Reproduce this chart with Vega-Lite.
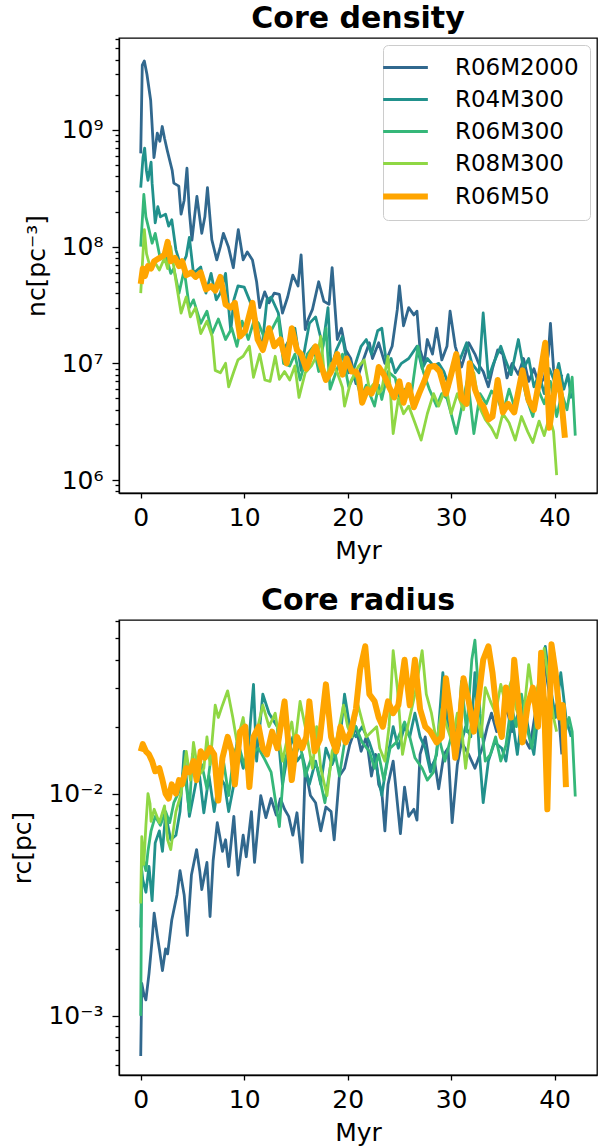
{
"$schema":"https://vega.github.io/schema/vega-lite/v6.json",
"padding":{"left":10,"top":3,"right":5,"bottom":2},
"spacing":20,
"datasets":{
"den":[
{"s":"R06M2000","t":0,"v":6.3e8},{"s":"R06M2000","t":0.15,"v":3.6e9},{"s":"R06M2000","t":0.35,"v":3.9e9},{"s":"R06M2000","t":0.6,"v":3.0e9},{"s":"R06M2000","t":0.96,"v":1.8e9},{"s":"R06M2000","t":1.28,"v":5.8e8},{"s":"R06M2000","t":1.6,"v":9.4e8},{"s":"R06M2000","t":1.85,"v":8e8},{"s":"R06M2000","t":2.08,"v":1.07e9},{"s":"R06M2000","t":2.3,"v":8.5e8},{"s":"R06M2000","t":2.56,"v":6.7e8},{"s":"R06M2000","t":3.04,"v":4.5e8},{"s":"R06M2000","t":3.2,"v":3.5e8},{"s":"R06M2000","t":3.68,"v":3.3e8},{"s":"R06M2000","t":3.9,"v":1.9e8},{"s":"R06M2000","t":4.2,"v":2.5e8},{"s":"R06M2000","t":4.47,"v":4.7e8},{"s":"R06M2000","t":4.7,"v":2.0e8},{"s":"R06M2000","t":4.95,"v":1.14e8},{"s":"R06M2000","t":5.2,"v":1.8e8},{"s":"R06M2000","t":5.43,"v":2.7e8},{"s":"R06M2000","t":5.9,"v":1.3e8},{"s":"R06M2000","t":6.2,"v":1.8e8},{"s":"R06M2000","t":6.45,"v":3.2e8},{"s":"R06M2000","t":6.87,"v":1.15e8},{"s":"R06M2000","t":7.35,"v":7.7e7},{"s":"R06M2000","t":7.7,"v":1.0e8},{"s":"R06M2000","t":7.99,"v":1.3e8},{"s":"R06M2000","t":8.47,"v":1.0e8},{"s":"R06M2000","t":8.95,"v":6.6e7},{"s":"R06M2000","t":9.27,"v":1.1e8},{"s":"R06M2000","t":9.43,"v":1.4e8},{"s":"R06M2000","t":9.9,"v":7.7e7},{"s":"R06M2000","t":10.3,"v":9e7},{"s":"R06M2000","t":10.8,"v":7.7e7},{"s":"R06M2000","t":11.2,"v":5e7},{"s":"R06M2000","t":11.5,"v":3.0e7},{"s":"R06M2000","t":11.98,"v":4.1e7},{"s":"R06M2000","t":12.4,"v":3.3e7},{"s":"R06M2000","t":12.9,"v":4e7},{"s":"R06M2000","t":13.4,"v":3.9e7},{"s":"R06M2000","t":13.7,"v":2.7e7},{"s":"R06M2000","t":14.2,"v":3.7e7},{"s":"R06M2000","t":14.7,"v":5.7e7},{"s":"R06M2000","t":15.2,"v":4.6e7},{"s":"R06M2000","t":15.5,"v":8.5e7},{"s":"R06M2000","t":15.9,"v":1.95e7},{"s":"R06M2000","t":16.2,"v":2.4e7},{"s":"R06M2000","t":16.6,"v":2.9e7},{"s":"R06M2000","t":17.2,"v":5.0e7},{"s":"R06M2000","t":17.7,"v":3.4e7},{"s":"R06M2000","t":18.2,"v":3.2e7},{"s":"R06M2000","t":18.5,"v":6.6e7},{"s":"R06M2000","t":19.0,"v":1.6e7},{"s":"R06M2000","t":19.4,"v":2.0e7},{"s":"R06M2000","t":19.8,"v":1.3e7},{"s":"R06M2000","t":20.3,"v":1.1e7},{"s":"R06M2000","t":20.8,"v":6.7e6},{"s":"R06M2000","t":21.4,"v":1e7},{"s":"R06M2000","t":22.1,"v":1.5e7},{"s":"R06M2000","t":22.4,"v":1.1e7},{"s":"R06M2000","t":23.0,"v":1.5e7},{"s":"R06M2000","t":23.6,"v":1e7},{"s":"R06M2000","t":24.3,"v":1.4e7},{"s":"R06M2000","t":24.8,"v":2.9e7},{"s":"R06M2000","t":25.0,"v":4.6e7},{"s":"R06M2000","t":25.4,"v":2.1e7},{"s":"R06M2000","t":25.9,"v":3.0e7},{"s":"R06M2000","t":26.4,"v":2.6e7},{"s":"R06M2000","t":26.7,"v":2.8e7},{"s":"R06M2000","t":27.0,"v":1.3e7},{"s":"R06M2000","t":27.4,"v":1.0e7},{"s":"R06M2000","t":27.7,"v":1.6e7},{"s":"R06M2000","t":28.2,"v":1.2e7},{"s":"R06M2000","t":28.6,"v":2.0e7},{"s":"R06M2000","t":29.1,"v":1.07e7},{"s":"R06M2000","t":29.6,"v":1.4e7},{"s":"R06M2000","t":29.9,"v":2.8e7},{"s":"R06M2000","t":30.4,"v":1.4e7},{"s":"R06M2000","t":31.0,"v":9.3e6},{"s":"R06M2000","t":31.7,"v":1.5e7},{"s":"R06M2000","t":32.3,"v":1.2e7},{"s":"R06M2000","t":32.8,"v":9.3e6},{"s":"R06M2000","t":33.1,"v":8.5e6},{"s":"R06M2000","t":33.6,"v":6.3e6},{"s":"R06M2000","t":34.0,"v":9e6},{"s":"R06M2000","t":34.5,"v":1.3e7},{"s":"R06M2000","t":35.0,"v":1.2e7},{"s":"R06M2000","t":35.4,"v":7.5e6},{"s":"R06M2000","t":35.9,"v":1.0e7},{"s":"R06M2000","t":36.5,"v":8e6},{"s":"R06M2000","t":37.0,"v":1.1e7},{"s":"R06M2000","t":37.5,"v":7e6},{"s":"R06M2000","t":38.0,"v":9e6},{"s":"R06M2000","t":38.5,"v":6.5e6},{"s":"R06M2000","t":39.0,"v":7.5e6},{"s":"R06M2000","t":39.4,"v":1.2e7},{"s":"R06M2000","t":39.6,"v":2.2e7},{"s":"R06M2000","t":39.9,"v":9e6},{"s":"R06M2000","t":40.3,"v":6e6},{"s":"R06M2000","t":40.7,"v":8e6},
{"s":"R04M300","t":0,"v":3.2e8},{"s":"R04M300","t":0.22,"v":5.8e8},{"s":"R04M300","t":0.38,"v":7.0e8},{"s":"R04M300","t":0.55,"v":4.5e8},{"s":"R04M300","t":0.7,"v":3.7e8},{"s":"R04M300","t":1.0,"v":5.3e8},{"s":"R04M300","t":1.1,"v":3.5e8},{"s":"R04M300","t":1.4,"v":1.6e8},{"s":"R04M300","t":1.65,"v":2.2e8},{"s":"R04M300","t":1.9,"v":1.8e8},{"s":"R04M300","t":2.4,"v":1.9e8},{"s":"R04M300","t":2.7,"v":1.5e8},{"s":"R04M300","t":3.0,"v":1.7e8},{"s":"R04M300","t":3.4,"v":9.4e7},{"s":"R04M300","t":3.9,"v":6.7e7},{"s":"R04M300","t":4.4,"v":8.3e7},{"s":"R04M300","t":4.7,"v":1.2e8},{"s":"R04M300","t":5.1,"v":5.9e7},{"s":"R04M300","t":5.8,"v":6.7e7},{"s":"R04M300","t":6.3,"v":4e7},{"s":"R04M300","t":6.8,"v":5.9e7},{"s":"R04M300","t":7.3,"v":3.5e7},{"s":"R04M300","t":7.7,"v":4e7},{"s":"R04M300","t":8.2,"v":5.9e7},{"s":"R04M300","t":8.7,"v":1.9e7},{"s":"R04M300","t":9.0,"v":3.5e7},{"s":"R04M300","t":9.4,"v":4.6e7},{"s":"R04M300","t":10.0,"v":4.5e7},{"s":"R04M300","t":10.5,"v":3.5e7},{"s":"R04M300","t":11.1,"v":2.5e7},{"s":"R04M300","t":11.7,"v":1.3e7},{"s":"R04M300","t":12.2,"v":3.5e7},{"s":"R04M300","t":12.6,"v":3.7e7},{"s":"R04M300","t":13.3,"v":2.7e7},{"s":"R04M300","t":13.8,"v":1.3e7},{"s":"R04M300","t":14.2,"v":1.5e7},{"s":"R04M300","t":14.9,"v":2.0e7},{"s":"R04M300","t":15.5,"v":8.7e6},{"s":"R04M300","t":15.9,"v":1.4e7},{"s":"R04M300","t":16.3,"v":2.2e7},{"s":"R04M300","t":16.9,"v":2.5e7},{"s":"R04M300","t":17.6,"v":1.4e7},{"s":"R04M300","t":18.1,"v":3.0e7},{"s":"R04M300","t":18.4,"v":9e6},{"s":"R04M300","t":18.9,"v":1.3e7},{"s":"R04M300","t":19.5,"v":1.7e7},{"s":"R04M300","t":20.1,"v":8.3e6},{"s":"R04M300","t":20.6,"v":9e6},{"s":"R04M300","t":21.3,"v":1.4e7},{"s":"R04M300","t":21.8,"v":1.6e7},{"s":"R04M300","t":22.3,"v":1.2e7},{"s":"R04M300","t":22.9,"v":1.9e7},{"s":"R04M300","t":23.3,"v":2.0e7},{"s":"R04M300","t":23.8,"v":9.3e6},{"s":"R04M300","t":24.2,"v":1.1e7},{"s":"R04M300","t":24.6,"v":8.3e6},{"s":"R04M300","t":25.2,"v":1.0e7},{"s":"R04M300","t":25.9,"v":1.1e7},{"s":"R04M300","t":26.7,"v":1.4e7},{"s":"R04M300","t":27.2,"v":9e6},{"s":"R04M300","t":27.7,"v":1.1e7},{"s":"R04M300","t":28.3,"v":9.5e6},{"s":"R04M300","t":28.8,"v":1.0e7},{"s":"R04M300","t":29.3,"v":8.5e6},{"s":"R04M300","t":29.8,"v":6.3e6},{"s":"R04M300","t":30.4,"v":1.2e7},{"s":"R04M300","t":30.9,"v":1.1e7},{"s":"R04M300","t":31.5,"v":1.5e7},{"s":"R04M300","t":32.0,"v":1.0e7},{"s":"R04M300","t":32.7,"v":8.3e6},{"s":"R04M300","t":33.1,"v":2.7e7},{"s":"R04M300","t":33.6,"v":7.5e6},{"s":"R04M300","t":34.1,"v":1e7},{"s":"R04M300","t":34.8,"v":1.4e7},{"s":"R04M300","t":35.2,"v":1.1e7},{"s":"R04M300","t":35.8,"v":8e6},{"s":"R04M300","t":36.5,"v":1.6e7},{"s":"R04M300","t":37.0,"v":9e6},{"s":"R04M300","t":37.5,"v":1.1e7},{"s":"R04M300","t":38.0,"v":6.3e6},{"s":"R04M300","t":38.5,"v":8e6},{"s":"R04M300","t":39.0,"v":5.5e6},{"s":"R04M300","t":39.5,"v":9e6},{"s":"R04M300","t":40.0,"v":7e6},{"s":"R04M300","t":40.4,"v":1.0e7},{"s":"R04M300","t":40.9,"v":6e6},{"s":"R04M300","t":41.3,"v":8e6},{"s":"R04M300","t":41.6,"v":5e6},
{"s":"R06M300","t":0,"v":1.0e8},{"s":"R06M300","t":0.3,"v":2.8e8},{"s":"R06M300","t":0.5,"v":1.8e8},{"s":"R06M300","t":0.8,"v":1.4e8},{"s":"R06M300","t":1.1,"v":1.07e8},{"s":"R06M300","t":1.4,"v":1.3e8},{"s":"R06M300","t":1.9,"v":7.8e7},{"s":"R06M300","t":2.4,"v":8.7e7},{"s":"R06M300","t":2.9,"v":5.9e7},{"s":"R06M300","t":3.2,"v":6.5e7},{"s":"R06M300","t":3.7,"v":4e7},{"s":"R06M300","t":4.2,"v":6.3e7},{"s":"R06M300","t":4.7,"v":3.0e7},{"s":"R06M300","t":5.1,"v":3.5e7},{"s":"R06M300","t":5.8,"v":2.2e7},{"s":"R06M300","t":6.4,"v":2.8e7},{"s":"R06M300","t":6.9,"v":1.8e7},{"s":"R06M300","t":7.5,"v":2.4e7},{"s":"R06M300","t":8.2,"v":1.6e7},{"s":"R06M300","t":8.8,"v":2.0e7},{"s":"R06M300","t":9.3,"v":1.4e7},{"s":"R06M300","t":9.8,"v":2.3e7},{"s":"R06M300","t":10.4,"v":1.6e7},{"s":"R06M300","t":11.0,"v":2.4e7},{"s":"R06M300","t":11.4,"v":2.2e7},{"s":"R06M300","t":12.0,"v":1.6e7},{"s":"R06M300","t":12.6,"v":1.9e7},{"s":"R06M300","t":13.3,"v":2.5e7},{"s":"R06M300","t":13.8,"v":1.0e7},{"s":"R06M300","t":14.4,"v":9.5e6},{"s":"R06M300","t":14.9,"v":1.2e7},{"s":"R06M300","t":15.4,"v":7.2e6},{"s":"R06M300","t":16.1,"v":1.2e7},{"s":"R06M300","t":16.7,"v":1.4e7},{"s":"R06M300","t":17.2,"v":8.5e6},{"s":"R06M300","t":17.9,"v":2.0e7},{"s":"R06M300","t":18.3,"v":6e6},{"s":"R06M300","t":18.9,"v":8.5e6},{"s":"R06M300","t":19.5,"v":1.2e7},{"s":"R06M300","t":20.1,"v":6.3e6},{"s":"R06M300","t":20.7,"v":8e6},{"s":"R06M300","t":21.3,"v":5.1e6},{"s":"R06M300","t":21.8,"v":6.5e6},{"s":"R06M300","t":22.6,"v":4.3e6},{"s":"R06M300","t":23.0,"v":6.5e6},{"s":"R06M300","t":23.3,"v":4.9e6},{"s":"R06M300","t":23.9,"v":8.5e6},{"s":"R06M300","t":24.6,"v":7.5e6},{"s":"R06M300","t":25.0,"v":5.0e6},{"s":"R06M300","t":25.5,"v":6e6},{"s":"R06M300","t":26.1,"v":5e6},{"s":"R06M300","t":26.8,"v":1.4e7},{"s":"R06M300","t":27.3,"v":8.5e6},{"s":"R06M300","t":27.9,"v":6e6},{"s":"R06M300","t":28.6,"v":4.3e6},{"s":"R06M300","t":29.1,"v":5.5e6},{"s":"R06M300","t":29.6,"v":5e6},{"s":"R06M300","t":30.0,"v":3.7e6},{"s":"R06M300","t":30.5,"v":2.5e6},{"s":"R06M300","t":31.1,"v":4.5e6},{"s":"R06M300","t":31.6,"v":7.5e6},{"s":"R06M300","t":32.2,"v":2.5e6},{"s":"R06M300","t":32.8,"v":5.5e6},{"s":"R06M300","t":33.4,"v":4.5e6},{"s":"R06M300","t":33.9,"v":5.8e6},{"s":"R06M300","t":34.5,"v":5e6},{"s":"R06M300","t":35.0,"v":3.7e6},{"s":"R06M300","t":35.6,"v":6e6},{"s":"R06M300","t":36.2,"v":4e6},{"s":"R06M300","t":36.8,"v":8e6},{"s":"R06M300","t":37.3,"v":5e6},{"s":"R06M300","t":37.9,"v":3.5e6},{"s":"R06M300","t":38.4,"v":6e6},{"s":"R06M300","t":39.0,"v":4.5e6},{"s":"R06M300","t":39.6,"v":7e6},{"s":"R06M300","t":40.2,"v":3.5e6},{"s":"R06M300","t":40.7,"v":5.5e6},{"s":"R06M300","t":41.2,"v":4e6},{"s":"R06M300","t":41.7,"v":7.6e6},{"s":"R06M300","t":42.0,"v":2.4e6},
{"s":"R08M300","t":0,"v":4e7},{"s":"R08M300","t":0.35,"v":1.4e8},{"s":"R08M300","t":0.56,"v":8.7e7},{"s":"R08M300","t":0.9,"v":6.7e7},{"s":"R08M300","t":1.3,"v":7.5e7},{"s":"R08M300","t":1.8,"v":6.3e7},{"s":"R08M300","t":2.3,"v":8e7},{"s":"R08M300","t":2.6,"v":6.5e7},{"s":"R08M300","t":2.9,"v":1.0e8},{"s":"R08M300","t":3.4,"v":5.1e7},{"s":"R08M300","t":3.9,"v":2.7e7},{"s":"R08M300","t":4.4,"v":3.7e7},{"s":"R08M300","t":4.8,"v":2.5e7},{"s":"R08M300","t":5.3,"v":3.0e7},{"s":"R08M300","t":5.8,"v":1.8e7},{"s":"R08M300","t":6.4,"v":2.3e7},{"s":"R08M300","t":6.9,"v":1.7e7},{"s":"R08M300","t":7.2,"v":8.7e6},{"s":"R08M300","t":7.7,"v":8.3e6},{"s":"R08M300","t":8.2,"v":1.0e7},{"s":"R08M300","t":8.5,"v":6.3e6},{"s":"R08M300","t":9.0,"v":8.5e6},{"s":"R08M300","t":9.4,"v":1.07e7},{"s":"R08M300","t":9.9,"v":1.15e7},{"s":"R08M300","t":10.5,"v":1.4e7},{"s":"R08M300","t":10.9,"v":7.6e6},{"s":"R08M300","t":11.5,"v":1.2e7},{"s":"R08M300","t":12.0,"v":7.2e6},{"s":"R08M300","t":12.5,"v":7e6},{"s":"R08M300","t":13.0,"v":1.15e7},{"s":"R08M300","t":13.4,"v":7.3e6},{"s":"R08M300","t":13.9,"v":8.5e6},{"s":"R08M300","t":14.4,"v":7.2e6},{"s":"R08M300","t":14.9,"v":9.5e6},{"s":"R08M300","t":15.3,"v":5.1e6},{"s":"R08M300","t":15.9,"v":8.3e6},{"s":"R08M300","t":16.5,"v":9.5e6},{"s":"R08M300","t":17.1,"v":1.2e7},{"s":"R08M300","t":17.4,"v":1.7e7},{"s":"R08M300","t":17.8,"v":7.2e6},{"s":"R08M300","t":18.4,"v":1.0e7},{"s":"R08M300","t":19.0,"v":8.3e6},{"s":"R08M300","t":19.5,"v":6.2e6},{"s":"R08M300","t":19.7,"v":4.3e6},{"s":"R08M300","t":20.3,"v":7e6},{"s":"R08M300","t":21.0,"v":9.3e6},{"s":"R08M300","t":21.6,"v":1.07e7},{"s":"R08M300","t":22.1,"v":6e6},{"s":"R08M300","t":22.6,"v":6.8e6},{"s":"R08M300","t":23.0,"v":5.5e6},{"s":"R08M300","t":23.3,"v":6e6},{"s":"R08M300","t":23.9,"v":1.15e7},{"s":"R08M300","t":24.4,"v":2.5e6},{"s":"R08M300","t":24.9,"v":5e6},{"s":"R08M300","t":25.4,"v":3.7e6},{"s":"R08M300","t":25.9,"v":4.3e6},{"s":"R08M300","t":26.5,"v":3.1e6},{"s":"R08M300","t":27.1,"v":2.2e6},{"s":"R08M300","t":27.7,"v":3.7e6},{"s":"R08M300","t":28.3,"v":5.5e6},{"s":"R08M300","t":28.8,"v":4.3e6},{"s":"R08M300","t":29.5,"v":6.3e6},{"s":"R08M300","t":30.0,"v":3.7e6},{"s":"R08M300","t":30.6,"v":5.5e6},{"s":"R08M300","t":31.2,"v":4e6},{"s":"R08M300","t":31.7,"v":6.5e6},{"s":"R08M300","t":32.2,"v":8.3e6},{"s":"R08M300","t":32.7,"v":4.3e6},{"s":"R08M300","t":33.3,"v":3.3e6},{"s":"R08M300","t":33.9,"v":2.8e6},{"s":"R08M300","t":34.4,"v":2.3e6},{"s":"R08M300","t":35.0,"v":3.7e6},{"s":"R08M300","t":35.6,"v":3.1e6},{"s":"R08M300","t":36.2,"v":2.2e6},{"s":"R08M300","t":36.8,"v":3.5e6},{"s":"R08M300","t":37.4,"v":2.6e6},{"s":"R08M300","t":37.9,"v":2.1e6},{"s":"R08M300","t":38.5,"v":3.2e6},{"s":"R08M300","t":39.0,"v":2.4e6},{"s":"R08M300","t":39.5,"v":3.5e6},{"s":"R08M300","t":39.9,"v":2.6e6},{"s":"R08M300","t":40.2,"v":1.1e6},
{"s":"R06M50","t":0,"v":4.8e7},{"s":"R06M50","t":0.2,"v":6.5e7},{"s":"R06M50","t":0.4,"v":5.6e7},{"s":"R06M50","t":0.7,"v":6.8e7},{"s":"R06M50","t":1.0,"v":6.5e7},{"s":"R06M50","t":1.3,"v":7.5e7},{"s":"R06M50","t":1.8,"v":8e7},{"s":"R06M50","t":2.3,"v":8.5e7},{"s":"R06M50","t":2.6,"v":1.1e8},{"s":"R06M50","t":2.9,"v":7.5e7},{"s":"R06M50","t":3.3,"v":8e7},{"s":"R06M50","t":3.7,"v":6.8e7},{"s":"R06M50","t":4.0,"v":7.5e7},{"s":"R06M50","t":4.4,"v":5.7e7},{"s":"R06M50","t":4.9,"v":6e7},{"s":"R06M50","t":5.3,"v":5.5e7},{"s":"R06M50","t":5.8,"v":6e7},{"s":"R06M50","t":6.3,"v":4.3e7},{"s":"R06M50","t":6.8,"v":4.6e7},{"s":"R06M50","t":7.2,"v":4.2e7},{"s":"R06M50","t":7.7,"v":5.5e7},{"s":"R06M50","t":8.2,"v":3.2e7},{"s":"R06M50","t":8.7,"v":3.0e7},{"s":"R06M50","t":9.1,"v":3.3e7},{"s":"R06M50","t":9.6,"v":1.7e7},{"s":"R06M50","t":10.1,"v":1.9e7},{"s":"R06M50","t":10.8,"v":3.3e7},{"s":"R06M50","t":11.3,"v":1.6e7},{"s":"R06M50","t":11.8,"v":1.3e7},{"s":"R06M50","t":12.4,"v":2.0e7},{"s":"R06M50","t":12.9,"v":1.4e7},{"s":"R06M50","t":13.5,"v":1.6e7},{"s":"R06M50","t":14.1,"v":1.0e7},{"s":"R06M50","t":14.6,"v":2.0e7},{"s":"R06M50","t":15.1,"v":1.3e7},{"s":"R06M50","t":15.5,"v":1.2e7},{"s":"R06M50","t":16.0,"v":9e6},{"s":"R06M50","t":16.5,"v":1.2e7},{"s":"R06M50","t":16.9,"v":1.4e7},{"s":"R06M50","t":17.4,"v":9.8e6},{"s":"R06M50","t":17.9,"v":7.2e6},{"s":"R06M50","t":18.4,"v":8.5e6},{"s":"R06M50","t":19.0,"v":1.2e7},{"s":"R06M50","t":19.5,"v":8e6},{"s":"R06M50","t":19.9,"v":1.1e7},{"s":"R06M50","t":20.4,"v":8.5e6},{"s":"R06M50","t":20.8,"v":8.5e6},{"s":"R06M50","t":21.1,"v":7.5e6},{"s":"R06M50","t":21.4,"v":4.6e6},{"s":"R06M50","t":21.9,"v":6e6},{"s":"R06M50","t":22.3,"v":5.5e6},{"s":"R06M50","t":22.7,"v":6.5e6},{"s":"R06M50","t":23.0,"v":9.3e6},{"s":"R06M50","t":23.5,"v":8e6},{"s":"R06M50","t":24.0,"v":6.3e6},{"s":"R06M50","t":24.5,"v":5.1e6},{"s":"R06M50","t":25.0,"v":7e6},{"s":"R06M50","t":25.4,"v":4.6e6},{"s":"R06M50","t":25.9,"v":6.5e6},{"s":"R06M50","t":26.4,"v":4.2e6},{"s":"R06M50","t":26.9,"v":5.5e6},{"s":"R06M50","t":27.4,"v":7e6},{"s":"R06M50","t":27.9,"v":9.3e6},{"s":"R06M50","t":28.4,"v":9.5e6},{"s":"R06M50","t":28.9,"v":8.5e6},{"s":"R06M50","t":29.5,"v":5.5e6},{"s":"R06M50","t":30.0,"v":8e6},{"s":"R06M50","t":30.5,"v":1.2e7},{"s":"R06M50","t":31.0,"v":5e6},{"s":"R06M50","t":31.5,"v":4.5e6},{"s":"R06M50","t":31.8,"v":1.0e7},{"s":"R06M50","t":32.3,"v":6e6},{"s":"R06M50","t":32.8,"v":4.6e6},{"s":"R06M50","t":33.1,"v":4.3e6},{"s":"R06M50","t":33.6,"v":3.3e6},{"s":"R06M50","t":34.0,"v":3.5e6},{"s":"R06M50","t":34.5,"v":7.2e6},{"s":"R06M50","t":35.0,"v":3.8e6},{"s":"R06M50","t":35.5,"v":4.5e6},{"s":"R06M50","t":36.1,"v":3.8e6},{"s":"R06M50","t":36.9,"v":8.7e6},{"s":"R06M50","t":37.5,"v":4.8e6},{"s":"R06M50","t":38.0,"v":4e6},{"s":"R06M50","t":38.5,"v":7e6},{"s":"R06M50","t":39.1,"v":1.5e7},{"s":"R06M50","t":39.5,"v":2.8e6},{"s":"R06M50","t":39.9,"v":5e6},{"s":"R06M50","t":40.2,"v":8.5e6},{"s":"R06M50","t":40.6,"v":5.5e6},{"s":"R06M50","t":41.0,"v":2.3e6}
],
"rad":[
{"s":"R06M2000","t":0,"v":6.6e-4},{"s":"R06M2000","t":0.1,"v":1.4e-3},{"s":"R06M2000","t":0.3,"v":1.25e-3},{"s":"R06M2000","t":0.5,"v":1.18e-3},{"s":"R06M2000","t":0.8,"v":1.55e-3},{"s":"R06M2000","t":1.1,"v":2.2e-3},{"s":"R06M2000","t":1.3,"v":2.9e-3},{"s":"R06M2000","t":1.6,"v":2.3e-3},{"s":"R06M2000","t":1.8,"v":2.0e-3},{"s":"R06M2000","t":2.1,"v":1.6e-3},{"s":"R06M2000","t":2.4,"v":2.0e-3},{"s":"R06M2000","t":2.6,"v":1.9e-3},{"s":"R06M2000","t":3.0,"v":2.7e-3},{"s":"R06M2000","t":3.5,"v":3.5e-3},{"s":"R06M2000","t":3.8,"v":4.5e-3},{"s":"R06M2000","t":4.2,"v":3.5e-3},{"s":"R06M2000","t":4.5,"v":2.3e-3},{"s":"R06M2000","t":4.9,"v":4.3e-3},{"s":"R06M2000","t":5.4,"v":5.6e-3},{"s":"R06M2000","t":5.7,"v":4.5e-3},{"s":"R06M2000","t":5.9,"v":3.7e-3},{"s":"R06M2000","t":6.4,"v":4.9e-3},{"s":"R06M2000","t":6.7,"v":2.8e-3},{"s":"R06M2000","t":7.0,"v":5e-3},{"s":"R06M2000","t":7.4,"v":7.4e-3},{"s":"R06M2000","t":7.9,"v":5.5e-3},{"s":"R06M2000","t":8.2,"v":6.2e-3},{"s":"R06M2000","t":8.5,"v":4.7e-3},{"s":"R06M2000","t":9.0,"v":7.9e-3},{"s":"R06M2000","t":9.4,"v":4.3e-3},{"s":"R06M2000","t":9.9,"v":6.5e-3},{"s":"R06M2000","t":10.2,"v":5.2e-3},{"s":"R06M2000","t":10.7,"v":8.3e-3},{"s":"R06M2000","t":11.0,"v":4.9e-3},{"s":"R06M2000","t":11.6,"v":9.8e-3},{"s":"R06M2000","t":12.1,"v":7.8e-3},{"s":"R06M2000","t":12.6,"v":9.5e-3},{"s":"R06M2000","t":13.1,"v":8e-3},{"s":"R06M2000","t":13.5,"v":9.5e-3},{"s":"R06M2000","t":13.9,"v":8.5e-3},{"s":"R06M2000","t":14.3,"v":7.9e-3},{"s":"R06M2000","t":14.7,"v":6.5e-3},{"s":"R06M2000","t":15.1,"v":8.2e-3},{"s":"R06M2000","t":15.6,"v":4.9e-3},{"s":"R06M2000","t":15.9,"v":1.3e-2},{"s":"R06M2000","t":16.4,"v":9.8e-3},{"s":"R06M2000","t":16.9,"v":9.1e-3},{"s":"R06M2000","t":17.4,"v":6.8e-3},{"s":"R06M2000","t":17.9,"v":8.7e-3},{"s":"R06M2000","t":18.4,"v":8.3e-3},{"s":"R06M2000","t":18.7,"v":6.2e-3},{"s":"R06M2000","t":19.2,"v":1.2e-2},{"s":"R06M2000","t":19.7,"v":1.3e-2},{"s":"R06M2000","t":20.2,"v":1.66e-2},{"s":"R06M2000","t":20.8,"v":2.0e-2},{"s":"R06M2000","t":21.3,"v":1.55e-2},{"s":"R06M2000","t":21.8,"v":1.8e-2},{"s":"R06M2000","t":22.3,"v":1.2e-2},{"s":"R06M2000","t":22.7,"v":1.5e-2},{"s":"R06M2000","t":23.0,"v":1.1e-2},{"s":"R06M2000","t":23.3,"v":1.02e-2},{"s":"R06M2000","t":23.6,"v":6.8e-3},{"s":"R06M2000","t":23.9,"v":1.1e-2},{"s":"R06M2000","t":24.4,"v":1.4e-2},{"s":"R06M2000","t":25.1,"v":6.6e-3},{"s":"R06M2000","t":25.5,"v":1.07e-2},{"s":"R06M2000","t":25.9,"v":7.9e-3},{"s":"R06M2000","t":26.4,"v":8.5e-3},{"s":"R06M2000","t":26.7,"v":7.6e-3},{"s":"R06M2000","t":27.0,"v":1.5e-2},{"s":"R06M2000","t":27.5,"v":1.8e-2},{"s":"R06M2000","t":28.0,"v":1.3e-2},{"s":"R06M2000","t":28.4,"v":1.4e-2},{"s":"R06M2000","t":28.8,"v":1.05e-2},{"s":"R06M2000","t":29.3,"v":1.5e-2},{"s":"R06M2000","t":29.7,"v":1.6e-2},{"s":"R06M2000","t":30.1,"v":7.4e-3},{"s":"R06M2000","t":30.6,"v":1.35e-2},{"s":"R06M2000","t":31.0,"v":1.7e-2},{"s":"R06M2000","t":31.7,"v":1.5e-2},{"s":"R06M2000","t":32.3,"v":1.3e-2},{"s":"R06M2000","t":33.0,"v":1.6e-2},{"s":"R06M2000","t":33.5,"v":2.0e-2},{"s":"R06M2000","t":33.9,"v":2.3e-2},{"s":"R06M2000","t":34.4,"v":1.9e-2},{"s":"R06M2000","t":34.9,"v":2.1e-2},{"s":"R06M2000","t":35.4,"v":2.4e-2},{"s":"R06M2000","t":35.9,"v":1.9e-2},{"s":"R06M2000","t":36.5,"v":2.3e-2},{"s":"R06M2000","t":37.0,"v":1.8e-2},{"s":"R06M2000","t":37.6,"v":1.6e-2},{"s":"R06M2000","t":38.2,"v":2.4e-2},{"s":"R06M2000","t":38.9,"v":4.2e-2},{"s":"R06M2000","t":39.4,"v":3.0e-2},{"s":"R06M2000","t":39.8,"v":2.2e-2},{"s":"R06M2000","t":40.3,"v":2.6e-2},{"s":"R06M2000","t":40.7,"v":1.5e-2},
{"s":"R04M300","t":0,"v":2.5e-3},{"s":"R04M300","t":0.1,"v":4.5e-3},{"s":"R04M300","t":0.2,"v":4.1e-3},{"s":"R04M300","t":0.5,"v":3.6e-3},{"s":"R04M300","t":0.8,"v":4.7e-3},{"s":"R04M300","t":1.1,"v":3.3e-3},{"s":"R04M300","t":1.4,"v":6e-3},{"s":"R04M300","t":1.8,"v":6.8e-3},{"s":"R04M300","t":2.1,"v":5.5e-3},{"s":"R04M300","t":2.4,"v":8.1e-3},{"s":"R04M300","t":2.9,"v":6.2e-3},{"s":"R04M300","t":3.4,"v":6.5e-3},{"s":"R04M300","t":3.8,"v":8.3e-3},{"s":"R04M300","t":4.2,"v":1.55e-2},{"s":"R04M300","t":4.7,"v":7.9e-3},{"s":"R04M300","t":5.1,"v":9.8e-3},{"s":"R04M300","t":5.6,"v":1.3e-2},{"s":"R04M300","t":6.1,"v":8.2e-3},{"s":"R04M300","t":6.6,"v":1.2e-2},{"s":"R04M300","t":7.1,"v":8.3e-3},{"s":"R04M300","t":7.6,"v":1.2e-2},{"s":"R04M300","t":8.1,"v":1.1e-2},{"s":"R04M300","t":8.5,"v":8.3e-3},{"s":"R04M300","t":9.0,"v":1.1e-2},{"s":"R04M300","t":9.3,"v":1.7e-2},{"s":"R04M300","t":9.9,"v":1.3e-2},{"s":"R04M300","t":10.4,"v":1.6e-2},{"s":"R04M300","t":10.9,"v":3.1e-2},{"s":"R04M300","t":11.2,"v":1.4e-2},{"s":"R04M300","t":11.8,"v":2.8e-2},{"s":"R04M300","t":12.4,"v":2.3e-2},{"s":"R04M300","t":13.2,"v":2.0e-2},{"s":"R04M300","t":13.7,"v":1.1e-2},{"s":"R04M300","t":14.2,"v":1.5e-2},{"s":"R04M300","t":14.7,"v":1.8e-2},{"s":"R04M300","t":15.1,"v":1.4e-2},{"s":"R04M300","t":15.6,"v":1.5e-2},{"s":"R04M300","t":16.3,"v":1.1e-2},{"s":"R04M300","t":16.9,"v":1.4e-2},{"s":"R04M300","t":17.4,"v":1.1e-2},{"s":"R04M300","t":17.9,"v":1.6e-2},{"s":"R04M300","t":18.5,"v":1.35e-2},{"s":"R04M300","t":19.2,"v":1.65e-2},{"s":"R04M300","t":19.7,"v":2.8e-2},{"s":"R04M300","t":20.2,"v":2.0e-2},{"s":"R04M300","t":20.8,"v":1.8e-2},{"s":"R04M300","t":21.4,"v":2.0e-2},{"s":"R04M300","t":22.1,"v":1.7e-2},{"s":"R04M300","t":22.7,"v":1.4e-2},{"s":"R04M300","t":23.3,"v":9.8e-3},{"s":"R04M300","t":23.8,"v":1.4e-2},{"s":"R04M300","t":24.4,"v":2.0e-2},{"s":"R04M300","t":24.9,"v":1.6e-2},{"s":"R04M300","t":25.5,"v":2.0e-2},{"s":"R04M300","t":26.0,"v":1.8e-2},{"s":"R04M300","t":26.5,"v":2.3e-2},{"s":"R04M300","t":27.0,"v":1.8e-2},{"s":"R04M300","t":27.5,"v":1.6e-2},{"s":"R04M300","t":28.0,"v":1.25e-2},{"s":"R04M300","t":28.6,"v":1.5e-2},{"s":"R04M300","t":29.2,"v":3.5e-2},{"s":"R04M300","t":29.7,"v":2.0e-2},{"s":"R04M300","t":30.2,"v":1.7e-2},{"s":"R04M300","t":30.6,"v":2.2e-2},{"s":"R04M300","t":31.0,"v":1.7e-2},{"s":"R04M300","t":31.4,"v":2.0e-2},{"s":"R04M300","t":31.9,"v":1.8e-2},{"s":"R04M300","t":32.3,"v":3.5e-2},{"s":"R04M300","t":32.7,"v":1.6e-2},{"s":"R04M300","t":33.1,"v":9.1e-3},{"s":"R04M300","t":33.6,"v":1.4e-2},{"s":"R04M300","t":34.2,"v":1.7e-2},{"s":"R04M300","t":34.9,"v":1.6e-2},{"s":"R04M300","t":35.3,"v":1.4e-2},{"s":"R04M300","t":35.9,"v":2.2e-2},{"s":"R04M300","t":36.4,"v":1.5e-2},{"s":"R04M300","t":37.0,"v":2.6e-2},{"s":"R04M300","t":37.6,"v":1.8e-2},{"s":"R04M300","t":38.0,"v":1.5e-2},{"s":"R04M300","t":38.5,"v":2.5e-2},{"s":"R04M300","t":39.1,"v":4.6e-2},{"s":"R04M300","t":39.6,"v":3.0e-2},{"s":"R04M300","t":40.1,"v":2.2e-2},{"s":"R04M300","t":40.6,"v":3.5e-2},{"s":"R04M300","t":41.1,"v":2.2e-2},{"s":"R04M300","t":41.6,"v":1.8e-2},
{"s":"R06M300","t":0,"v":1.0e-3},{"s":"R06M300","t":0.1,"v":5e-3},{"s":"R06M300","t":0.2,"v":5.2e-3},{"s":"R06M300","t":0.5,"v":4.5e-3},{"s":"R06M300","t":0.7,"v":5.5e-3},{"s":"R06M300","t":1.0,"v":6.8e-3},{"s":"R06M300","t":1.4,"v":7.9e-3},{"s":"R06M300","t":1.9,"v":7.2e-3},{"s":"R06M300","t":2.4,"v":8.3e-3},{"s":"R06M300","t":2.8,"v":7.4e-3},{"s":"R06M300","t":3.2,"v":9.1e-3},{"s":"R06M300","t":3.7,"v":1.02e-2},{"s":"R06M300","t":4.2,"v":1.3e-2},{"s":"R06M300","t":4.7,"v":8.3e-3},{"s":"R06M300","t":5.0,"v":1.5e-2},{"s":"R06M300","t":5.4,"v":1.15e-2},{"s":"R06M300","t":5.9,"v":1.35e-2},{"s":"R06M300","t":6.4,"v":1.05e-2},{"s":"R06M300","t":6.9,"v":1.6e-2},{"s":"R06M300","t":7.5,"v":1.2e-2},{"s":"R06M300","t":8.0,"v":1.4e-2},{"s":"R06M300","t":8.5,"v":9.8e-3},{"s":"R06M300","t":9.0,"v":1.5e-2},{"s":"R06M300","t":9.4,"v":1.7e-2},{"s":"R06M300","t":9.9,"v":1.4e-2},{"s":"R06M300","t":10.5,"v":1.2e-2},{"s":"R06M300","t":11.0,"v":1.55e-2},{"s":"R06M300","t":11.4,"v":1.6e-2},{"s":"R06M300","t":11.9,"v":1.45e-2},{"s":"R06M300","t":12.6,"v":1.25e-2},{"s":"R06M300","t":13.4,"v":7.1e-3},{"s":"R06M300","t":13.9,"v":1.4e-2},{"s":"R06M300","t":14.4,"v":1.65e-2},{"s":"R06M300","t":14.9,"v":1.45e-2},{"s":"R06M300","t":15.4,"v":1.7e-2},{"s":"R06M300","t":15.9,"v":1.2e-2},{"s":"R06M300","t":16.5,"v":1.45e-2},{"s":"R06M300","t":17.1,"v":1.3e-2},{"s":"R06M300","t":17.8,"v":9.1e-3},{"s":"R06M300","t":18.3,"v":1.3e-2},{"s":"R06M300","t":18.7,"v":1.6e-2},{"s":"R06M300","t":19.2,"v":1.2e-2},{"s":"R06M300","t":19.7,"v":1.7e-2},{"s":"R06M300","t":20.2,"v":1.8e-2},{"s":"R06M300","t":20.8,"v":2.0e-2},{"s":"R06M300","t":21.4,"v":1.7e-2},{"s":"R06M300","t":22.1,"v":1.55e-2},{"s":"R06M300","t":22.6,"v":1.3e-2},{"s":"R06M300","t":23.0,"v":1.5e-2},{"s":"R06M300","t":23.5,"v":1.15e-2},{"s":"R06M300","t":24.1,"v":1.6e-2},{"s":"R06M300","t":24.7,"v":1.7e-2},{"s":"R06M300","t":25.5,"v":2.1e-2},{"s":"R06M300","t":26.0,"v":1.8e-2},{"s":"R06M300","t":26.5,"v":1.45e-2},{"s":"R06M300","t":27.2,"v":1.3e-2},{"s":"R06M300","t":27.7,"v":1.15e-2},{"s":"R06M300","t":28.3,"v":1.25e-2},{"s":"R06M300","t":28.8,"v":1.8e-2},{"s":"R06M300","t":29.4,"v":1.4e-2},{"s":"R06M300","t":30.0,"v":1.8e-2},{"s":"R06M300","t":30.6,"v":1.65e-2},{"s":"R06M300","t":31.0,"v":3.2e-2},{"s":"R06M300","t":31.5,"v":1.9e-2},{"s":"R06M300","t":32.0,"v":4.0e-2},{"s":"R06M300","t":32.3,"v":4.9e-2},{"s":"R06M300","t":32.8,"v":2.3e-2},{"s":"R06M300","t":33.3,"v":1.4e-2},{"s":"R06M300","t":33.8,"v":1.5e-2},{"s":"R06M300","t":34.3,"v":1.8e-2},{"s":"R06M300","t":34.8,"v":1.4e-2},{"s":"R06M300","t":35.3,"v":1.65e-2},{"s":"R06M300","t":35.8,"v":2.5e-2},{"s":"R06M300","t":36.3,"v":2.0e-2},{"s":"R06M300","t":36.8,"v":2.8e-2},{"s":"R06M300","t":37.3,"v":2.0e-2},{"s":"R06M300","t":37.8,"v":1.6e-2},{"s":"R06M300","t":38.3,"v":2.3e-2},{"s":"R06M300","t":38.8,"v":3.0e-2},{"s":"R06M300","t":39.4,"v":2.4e-2},{"s":"R06M300","t":39.9,"v":4.4e-2},{"s":"R06M300","t":40.4,"v":2.6e-2},{"s":"R06M300","t":40.9,"v":1.8e-2},{"s":"R06M300","t":41.4,"v":2.2e-2},{"s":"R06M300","t":41.7,"v":1.9e-2},{"s":"R06M300","t":42.0,"v":9.7e-3},
{"s":"R08M300","t":0,"v":3.2e-3},{"s":"R08M300","t":0.1,"v":6.4e-3},{"s":"R08M300","t":0.3,"v":4.8e-3},{"s":"R08M300","t":0.5,"v":7.2e-3},{"s":"R08M300","t":0.7,"v":1.0e-2},{"s":"R08M300","t":0.9,"v":9e-3},{"s":"R08M300","t":1.0,"v":7.5e-3},{"s":"R08M300","t":1.3,"v":8.5e-3},{"s":"R08M300","t":1.8,"v":7.4e-3},{"s":"R08M300","t":2.3,"v":8.8e-3},{"s":"R08M300","t":2.6,"v":6.2e-3},{"s":"R08M300","t":2.9,"v":5.6e-3},{"s":"R08M300","t":3.4,"v":8.3e-3},{"s":"R08M300","t":3.9,"v":1.0e-2},{"s":"R08M300","t":4.4,"v":1.55e-2},{"s":"R08M300","t":4.8,"v":1.15e-2},{"s":"R08M300","t":5.1,"v":1.7e-2},{"s":"R08M300","t":5.6,"v":1.2e-2},{"s":"R08M300","t":6.1,"v":1.3e-2},{"s":"R08M300","t":6.4,"v":1.8e-2},{"s":"R08M300","t":6.7,"v":1.35e-2},{"s":"R08M300","t":7.2,"v":2.5e-2},{"s":"R08M300","t":7.5,"v":2.2e-2},{"s":"R08M300","t":7.9,"v":2.5e-2},{"s":"R08M300","t":8.4,"v":2.9e-2},{"s":"R08M300","t":8.9,"v":2.2e-2},{"s":"R08M300","t":9.3,"v":1.7e-2},{"s":"R08M300","t":9.9,"v":2.2e-2},{"s":"R08M300","t":10.5,"v":1.4e-2},{"s":"R08M300","t":11.1,"v":1.8e-2},{"s":"R08M300","t":11.8,"v":2.5e-2},{"s":"R08M300","t":12.4,"v":2.0e-2},{"s":"R08M300","t":13.0,"v":2.3e-2},{"s":"R08M300","t":13.7,"v":1.4e-2},{"s":"R08M300","t":14.2,"v":1.8e-2},{"s":"R08M300","t":14.6,"v":2.1e-2},{"s":"R08M300","t":14.9,"v":1.65e-2},{"s":"R08M300","t":15.4,"v":2.6e-2},{"s":"R08M300","t":15.9,"v":2.0e-2},{"s":"R08M300","t":16.6,"v":1.3e-2},{"s":"R08M300","t":17.0,"v":2.0e-2},{"s":"R08M300","t":17.4,"v":1.3e-2},{"s":"R08M300","t":18.0,"v":9.8e-3},{"s":"R08M300","t":18.5,"v":1.55e-2},{"s":"R08M300","t":19.0,"v":1.8e-2},{"s":"R08M300","t":19.6,"v":2.5e-2},{"s":"R08M300","t":20.0,"v":2.0e-2},{"s":"R08M300","t":20.4,"v":1.8e-2},{"s":"R08M300","t":21.0,"v":2.5e-2},{"s":"R08M300","t":21.8,"v":1.8e-2},{"s":"R08M300","t":22.3,"v":1.9e-2},{"s":"R08M300","t":22.8,"v":2.0e-2},{"s":"R08M300","t":23.1,"v":1.6e-2},{"s":"R08M300","t":23.6,"v":1.4e-2},{"s":"R08M300","t":24.0,"v":2.0e-2},{"s":"R08M300","t":24.4,"v":4.4e-2},{"s":"R08M300","t":24.8,"v":3.0e-2},{"s":"R08M300","t":25.3,"v":1.5e-2},{"s":"R08M300","t":25.8,"v":2.0e-2},{"s":"R08M300","t":26.5,"v":2.8e-2},{"s":"R08M300","t":27.2,"v":4.4e-2},{"s":"R08M300","t":27.6,"v":2.8e-2},{"s":"R08M300","t":28.1,"v":2.3e-2},{"s":"R08M300","t":28.6,"v":1.7e-2},{"s":"R08M300","t":29.1,"v":2.4e-2},{"s":"R08M300","t":29.6,"v":2.0e-2},{"s":"R08M300","t":30.1,"v":1.7e-2},{"s":"R08M300","t":30.6,"v":2.3e-2},{"s":"R08M300","t":31.0,"v":2.0e-2},{"s":"R08M300","t":31.4,"v":1.3e-2},{"s":"R08M300","t":31.9,"v":2.0e-2},{"s":"R08M300","t":32.4,"v":2.4e-2},{"s":"R08M300","t":32.9,"v":1.8e-2},{"s":"R08M300","t":33.3,"v":3.0e-2},{"s":"R08M300","t":33.8,"v":2.6e-2},{"s":"R08M300","t":34.3,"v":2.3e-2},{"s":"R08M300","t":34.8,"v":3.1e-2},{"s":"R08M300","t":35.2,"v":2.6e-2},{"s":"R08M300","t":35.8,"v":3.2e-2},{"s":"R08M300","t":36.3,"v":2.4e-2},{"s":"R08M300","t":36.9,"v":2.0e-2},{"s":"R08M300","t":37.5,"v":3.8e-2},{"s":"R08M300","t":38.0,"v":2.6e-2},{"s":"R08M300","t":38.5,"v":3.2e-2},{"s":"R08M300","t":39.0,"v":4.5e-2},{"s":"R08M300","t":39.5,"v":3.0e-2},{"s":"R08M300","t":39.9,"v":2.2e-2},{"s":"R08M300","t":40.2,"v":1.9e-2},
{"s":"R06M50","t":0,"v":1.55e-2},{"s":"R06M50","t":0.2,"v":1.67e-2},{"s":"R06M50","t":0.5,"v":1.55e-2},{"s":"R06M50","t":0.8,"v":1.5e-2},{"s":"R06M50","t":1.1,"v":1.4e-2},{"s":"R06M50","t":1.4,"v":1.26e-2},{"s":"R06M50","t":1.8,"v":1.3e-2},{"s":"R06M50","t":2.1,"v":1.15e-2},{"s":"R06M50","t":2.4,"v":1.0e-2},{"s":"R06M50","t":2.7,"v":9.5e-3},{"s":"R06M50","t":3.0,"v":1.1e-2},{"s":"R06M50","t":3.4,"v":1.0e-2},{"s":"R06M50","t":3.7,"v":1.15e-2},{"s":"R06M50","t":4.0,"v":1.1e-2},{"s":"R06M50","t":4.4,"v":1.3e-2},{"s":"R06M50","t":4.7,"v":1.25e-2},{"s":"R06M50","t":5.1,"v":1.4e-2},{"s":"R06M50","t":5.4,"v":1.15e-2},{"s":"R06M50","t":5.8,"v":1.55e-2},{"s":"R06M50","t":6.2,"v":1.45e-2},{"s":"R06M50","t":6.7,"v":1.6e-2},{"s":"R06M50","t":7.1,"v":1.5e-2},{"s":"R06M50","t":7.5,"v":9.3e-3},{"s":"R06M50","t":7.9,"v":1.45e-2},{"s":"R06M50","t":8.4,"v":1.8e-2},{"s":"R06M50","t":8.8,"v":1.55e-2},{"s":"R06M50","t":9.1,"v":1.1e-2},{"s":"R06M50","t":9.6,"v":1.9e-2},{"s":"R06M50","t":10.1,"v":2.0e-2},{"s":"R06M50","t":10.5,"v":1.07e-2},{"s":"R06M50","t":10.9,"v":1.8e-2},{"s":"R06M50","t":11.4,"v":2.0e-2},{"s":"R06M50","t":11.8,"v":1.6e-2},{"s":"R06M50","t":12.2,"v":1.5e-2},{"s":"R06M50","t":12.7,"v":1.9e-2},{"s":"R06M50","t":13.2,"v":1.6e-2},{"s":"R06M50","t":13.9,"v":2.6e-2},{"s":"R06M50","t":14.6,"v":1.15e-2},{"s":"R06M50","t":15.1,"v":1.8e-2},{"s":"R06M50","t":15.6,"v":1.6e-2},{"s":"R06M50","t":16.0,"v":1.8e-2},{"s":"R06M50","t":16.3,"v":2.6e-2},{"s":"R06M50","t":16.8,"v":1.55e-2},{"s":"R06M50","t":17.3,"v":1.75e-2},{"s":"R06M50","t":17.9,"v":3.1e-2},{"s":"R06M50","t":18.4,"v":1.8e-2},{"s":"R06M50","t":18.9,"v":1.55e-2},{"s":"R06M50","t":19.3,"v":2.0e-2},{"s":"R06M50","t":19.8,"v":1.7e-2},{"s":"R06M50","t":20.3,"v":1.9e-2},{"s":"R06M50","t":20.8,"v":2.4e-2},{"s":"R06M50","t":21.2,"v":3.6e-2},{"s":"R06M50","t":21.7,"v":4.6e-2},{"s":"R06M50","t":22.1,"v":2.8e-2},{"s":"R06M50","t":22.6,"v":2.6e-2},{"s":"R06M50","t":23.0,"v":2.2e-2},{"s":"R06M50","t":23.4,"v":2.0e-2},{"s":"R06M50","t":23.9,"v":2.6e-2},{"s":"R06M50","t":24.4,"v":2.3e-2},{"s":"R06M50","t":24.9,"v":2.5e-2},{"s":"R06M50","t":25.5,"v":4.0e-2},{"s":"R06M50","t":26.0,"v":2.5e-2},{"s":"R06M50","t":26.5,"v":4.0e-2},{"s":"R06M50","t":27.0,"v":2.4e-2},{"s":"R06M50","t":27.5,"v":2.0e-2},{"s":"R06M50","t":28.0,"v":1.9e-2},{"s":"R06M50","t":28.6,"v":1.7e-2},{"s":"R06M50","t":29.1,"v":1.8e-2},{"s":"R06M50","t":29.5,"v":3.3e-2},{"s":"R06M50","t":30.0,"v":2.2e-2},{"s":"R06M50","t":30.4,"v":1.45e-2},{"s":"R06M50","t":30.8,"v":2.0e-2},{"s":"R06M50","t":31.2,"v":3.3e-2},{"s":"R06M50","t":31.7,"v":2.6e-2},{"s":"R06M50","t":32.2,"v":1.9e-2},{"s":"R06M50","t":32.7,"v":2.8e-2},{"s":"R06M50","t":33.1,"v":4.0e-2},{"s":"R06M50","t":33.6,"v":4.6e-2},{"s":"R06M50","t":34.0,"v":3.5e-2},{"s":"R06M50","t":34.5,"v":2.1e-2},{"s":"R06M50","t":34.9,"v":1.8e-2},{"s":"R06M50","t":35.3,"v":3.0e-2},{"s":"R06M50","t":35.8,"v":2.2e-2},{"s":"R06M50","t":36.1,"v":4.0e-2},{"s":"R06M50","t":36.9,"v":1.7e-2},{"s":"R06M50","t":37.4,"v":2.5e-2},{"s":"R06M50","t":37.9,"v":3.0e-2},{"s":"R06M50","t":38.4,"v":2.0e-2},{"s":"R06M50","t":38.7,"v":4.3e-2},{"s":"R06M50","t":39.0,"v":2.5e-2},{"s":"R06M50","t":39.3,"v":8.5e-3},{"s":"R06M50","t":39.7,"v":4.7e-2},{"s":"R06M50","t":40.1,"v":3.5e-2},{"s":"R06M50","t":40.5,"v":2.2e-2},{"s":"R06M50","t":40.8,"v":2.5e-2},{"s":"R06M50","t":41.1,"v":1.07e-2}
]
},
"vconcat":[
{
"title":{"text":"Core density"},
"width":478,"height":455,
"data":{"name":"den"},
"mark":{"type":"line","clip":true,"strokeJoin":"round"},
"encoding":{
"x":{"field":"t","type":"quantitative","scale":{"domain":[-2.1,44.1],"nice":false,"zero":false},"axis":{"values":[0,10,20,30,40],"format":"d","title":"Myr","labelFlush":false,"labelPadding":7,"titlePadding":8}},
"y":{"field":"v","type":"quantitative","scale":{"type":"log","domain":[7.74e5,6.14e9],"nice":false},"axis":{"title":"nc[pc⁻³]","values":[8e5,9e5,1e6,2e6,3e6,4e6,5e6,6e6,7e6,8e6,9e6,1e7,2e7,3e7,4e7,5e7,6e7,7e7,8e7,9e7,1e8,2e8,3e8,4e8,5e8,6e8,7e8,8e8,9e8,1e9,2e9,3e9,4e9,5e9,6e9],"labelExpr":"datum.value == 1e6 ? '10⁶' : datum.value == 1e7 ? '10⁷' : datum.value == 1e8 ? '10⁸' : datum.value == 1e9 ? '10⁹' : ''","tickSize":{"condition":{"test":"datum.value == 1e6 || datum.value == 1e7 || datum.value == 1e8 || datum.value == 1e9","value":7},"value":4},"labelOverlap":false,"labelPadding":9,"titlePadding":12}},
"color":{"field":"s","type":"nominal","scale":{"domain":["R06M2000","R04M300","R06M300","R08M300","R06M50"],"range":["#31688e","#21918c","#35b779","#8fd744","#ffa500"]},"legend":{"title":null,"orient":"top-right","offset":7,"encode":{"symbols":{"update":{"strokeWidth":{"signal":"datum.value === 'R06M50' ? 6 : 2.8"}}}}}},
"strokeWidth":{"condition":{"test":"datum.s === 'R06M50'","value":6},"value":2.8}
}
},
{
"title":{"text":"Core radius"},
"width":478,"height":455,
"data":{"name":"rad"},
"mark":{"type":"line","clip":true,"strokeJoin":"round"},
"encoding":{
"x":{"field":"t","type":"quantitative","scale":{"domain":[-2.1,44.1],"nice":false,"zero":false},"axis":{"values":[0,10,20,30,40],"format":"d","title":"Myr","labelFlush":false,"labelPadding":7,"titlePadding":8}},
"y":{"field":"v","type":"quantitative","scale":{"type":"log","domain":[5.42e-4,6.04e-2],"nice":false},"axis":{"title":"rc[pc]","values":[6e-4,7e-4,8e-4,9e-4,1e-3,2e-3,3e-3,4e-3,5e-3,6e-3,7e-3,8e-3,9e-3,1e-2,2e-2,3e-2,4e-2,5e-2,6e-2],"labelExpr":"datum.value == 0.001 ? '10⁻³' : datum.value == 0.01 ? '10⁻²' : ''","tickSize":{"condition":{"test":"datum.value == 0.001 || datum.value == 0.01","value":7},"value":4},"labelOverlap":false,"labelPadding":9,"titlePadding":12}},
"color":{"field":"s","type":"nominal","scale":{"domain":["R06M2000","R04M300","R06M300","R08M300","R06M50"],"range":["#31688e","#21918c","#35b779","#8fd744","#ffa500"]},"legend":null},
"strokeWidth":{"condition":{"test":"datum.s === 'R06M50'","value":6},"value":2.8}
}
}
],
"resolve":{"scale":{"color":"independent"},"legend":{"color":"independent"}},
"config":{
"font":"DejaVu Sans",
"view":{"stroke":"black","strokeWidth":1.3},
"axis":{"grid":false,"domainColor":"black","domainWidth":1.3,"tickColor":"black","tickWidth":1.3,"labelColor":"black","titleColor":"black","labelFontSize":25,"titleFontSize":25,"titleFontWeight":"normal","labelFont":"DejaVu Sans","titleFont":"DejaVu Sans"},
"title":{"fontSize":30,"fontWeight":"bold","font":"DejaVu Sans","color":"black","offset":-7},
"legend":{"symbolType":"stroke","symbolSize":2000,"labelFontSize":23,"labelFont":"DejaVu Sans","labelColor":"black","rowPadding":8,"padding":11,"strokeColor":"#cccccc","fillColor":"rgba(255,255,255,0.85)","cornerRadius":5,"labelOffset":38}
}
}
